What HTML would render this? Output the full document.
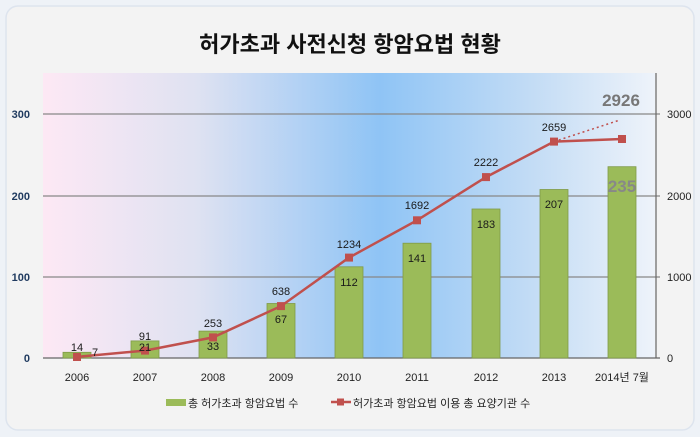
<!DOCTYPE html>
<html><head><meta charset="utf-8"><style>
html,body{margin:0;padding:0;background:#eef2f7;}
svg{display:block;font-family:"Liberation Sans","Noto Sans CJK KR",sans-serif;}
</style></head><body>
<svg width="700" height="437" viewBox="0 0 700 437">
<defs>
<linearGradient id="bg" x1="0" x2="1" y1="0" y2="0">
<stop offset="0" stop-color="#fde8f4"/>
<stop offset="0.25" stop-color="#dfe2f2"/>
<stop offset="0.55" stop-color="#8fc4f5"/>
<stop offset="0.8" stop-color="#c3dcf5"/>
<stop offset="1" stop-color="#eef3fa"/>
</linearGradient>
</defs>
<rect x="6" y="6" width="688" height="424" rx="12" fill="#f3f3f3" stroke="#dde4ee" stroke-width="1.5"/>
<text x="350" y="52" font-size="22" font-weight="bold" text-anchor="middle" fill="#111">허가초과 사전신청 항암요법 현황</text>
<rect x="43" y="73" width="612" height="285" fill="url(#bg)"/>
<g stroke="#888" stroke-width="1.2">
<line x1="43" y1="114" x2="660" y2="114"/>
<line x1="43" y1="196" x2="660" y2="196"/>
<line x1="43" y1="277" x2="660" y2="277"/>
<line x1="43" y1="358" x2="660" y2="358" stroke="#666"/>
<line x1="656" y1="73" x2="656" y2="358" stroke="#666"/>
</g>
<g font-size="11" font-weight="bold" fill="#1f3a5f" text-anchor="end">
<text x="30" y="118">300</text><text x="30" y="200">200</text><text x="30" y="281">100</text><text x="30" y="362">0</text>
</g>
<g font-size="11" fill="#222">
<text x="667" y="118">3000</text><text x="667" y="200">2000</text><text x="667" y="281">1000</text><text x="667" y="362">0</text>
</g>
<g fill="#9bbb59" stroke="#7f9a48" stroke-width="0.8">
<rect x="63" y="352.3" width="28" height="5.7"/>
<rect x="131" y="340.9" width="28" height="17.1"/>
<rect x="199" y="331.1" width="28" height="26.9"/>
<rect x="267" y="303.5" width="28" height="54.5"/>
<rect x="335" y="266.8" width="28" height="91.2"/>
<rect x="403" y="243.2" width="28" height="114.8"/>
<rect x="472" y="209" width="28" height="149"/>
<rect x="540" y="189.5" width="28" height="168.5"/>
<rect x="608" y="166.7" width="28" height="191.3"/>
</g>
<line x1="554" y1="141.6" x2="620" y2="120" stroke="#c0504d" stroke-width="1.5" stroke-dasharray="2,3"/>
<polyline fill="none" stroke="#c0504d" stroke-width="2.5" points="77,356.9 145,350.6 213,337.4 281,306.1 349,257.6 417,220.3 486,177.1 554,141.6 622,139"/>
<g fill="#c0504d">
<rect x="73" y="353" width="8" height="8"/><rect x="141" y="346.6" width="8" height="8"/><rect x="209" y="333.4" width="8" height="8"/><rect x="277" y="302.1" width="8" height="8"/><rect x="345" y="253.6" width="8" height="8"/><rect x="413" y="216.3" width="8" height="8"/><rect x="482" y="173.1" width="8" height="8"/><rect x="550" y="137.6" width="8" height="8"/><rect x="618" y="135" width="8" height="8"/>
</g>
<g font-size="11" fill="#1a1a1a" text-anchor="middle">
<text x="77" y="351">14</text><text x="95" y="356">7</text>
<text x="145" y="340">91</text><text x="145" y="351">21</text>
<text x="213" y="327">253</text><text x="213" y="350">33</text>
<text x="281" y="295">638</text><text x="281" y="323">67</text>
<text x="349" y="248">1234</text><text x="349" y="286">112</text>
<text x="417" y="209">1692</text><text x="417" y="262">141</text>
<text x="486" y="166">2222</text><text x="486" y="228">183</text>
<text x="554" y="131">2659</text><text x="554" y="208">207</text>
</g>
<text x="621" y="106" font-size="17" font-weight="bold" fill="#777" text-anchor="middle">2926</text>
<text x="622" y="192" font-size="17" font-weight="bold" fill="#888" text-anchor="middle">235</text>
<g font-size="11" fill="#222" text-anchor="middle">
<text x="77" y="381">2006</text><text x="145" y="381">2007</text><text x="213" y="381">2008</text><text x="281" y="381">2009</text><text x="349" y="381">2010</text><text x="417" y="381">2011</text><text x="486" y="381">2012</text><text x="554" y="381">2013</text><text x="622" y="381">2014년 7월</text>
</g>
<rect x="166" y="399" width="20" height="7" fill="#9bbb59"/>
<text x="188" y="407" font-size="11" fill="#222">총 허가초과 항암요법 수</text>
<line x1="331" y1="402" x2="351" y2="402" stroke="#c0504d" stroke-width="2.5"/>
<rect x="337" y="398.5" width="7" height="7" fill="#c0504d"/>
<text x="353" y="407" font-size="11" fill="#222">허가초과 항암요법 이용 총 요양기관 수</text>
</svg>
</body></html>
